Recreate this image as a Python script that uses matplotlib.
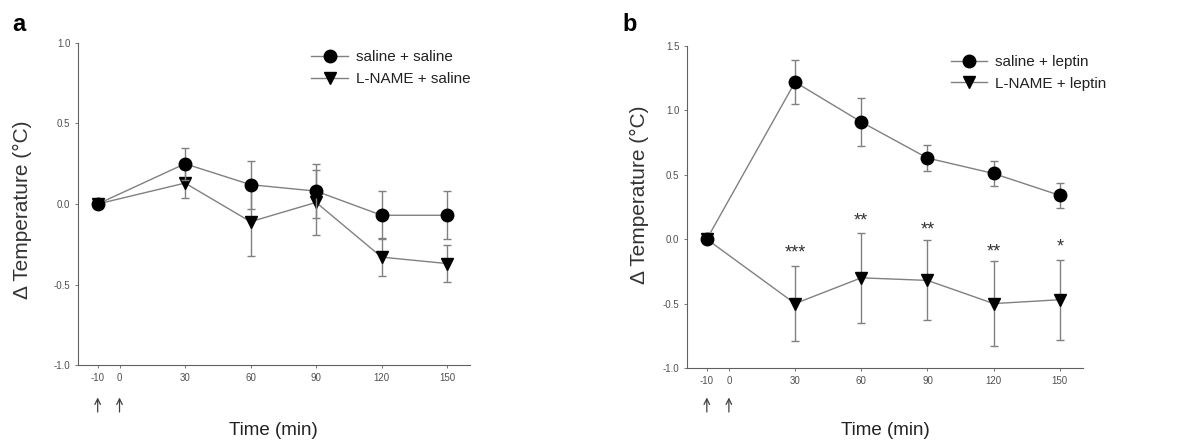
import matplotlib
matplotlib.use('Agg')
import matplotlib.pyplot as plt
from matplotlib.lines import Line2D

plt.rcParams['font.family'] = ['Liberation Sans', 'DejaVu Sans']
plt.rcParams['axes.unicode_minus'] = False

# datos
time = [-10, 30, 60, 90, 120, 150]
xticks = [-10, 0, 30, 60, 90, 120, 150]

a_saline = [0.0, 0.25, 0.12, 0.08, -0.07, -0.07]
a_saline_err = [0.0, 0.10, 0.15, 0.17, 0.15, 0.15]
a_lname = [0.0, 0.13, -0.11, 0.01, -0.33, -0.37]
a_lname_err = [0.0, 0.09, 0.21, 0.20, 0.12, 0.115]

b_saline = [0.0, 1.22, 0.91, 0.63, 0.51, 0.34]
b_saline_err = [0.0, 0.17, 0.19, 0.10, 0.10, 0.095]
b_lname = [0.0, -0.50, -0.30, -0.32, -0.50, -0.47]
b_lname_err = [0.0, 0.29, 0.35, 0.31, 0.33, 0.31]

stars = ['***', '**', '**', '**', '*']
star_y = [-0.11, 0.14, 0.07, -0.10, -0.06]

fig = plt.figure(figsize=(11.84, 4.46), dpi=100)
ax_a = fig.add_axes([0.0659, 0.1816, 0.3311, 0.722])
ax_b = fig.add_axes([0.5802, 0.1749, 0.3345, 0.722])

line_c = '#808080'


def draw(ax, y1, e1, y2, e2, labels, anchor):
    ax.errorbar(time, y2, yerr=e2, fmt='-v', color=line_c, mfc='black', mec='black',
                ms=9, lw=1, elinewidth=1, capsize=3, errorevery=(1, 1), zorder=3)
    ax.errorbar(time, y1, yerr=e1, fmt='-o', color=line_c, mfc='black', mec='black',
                ms=9, lw=1, elinewidth=1, capsize=3, errorevery=(1, 1), zorder=4)
    ax.spines['top'].set_visible(False)
    ax.spines['right'].set_visible(False)
    for s in ['left', 'bottom']:
        ax.spines[s].set_color('#606060')
        ax.spines[s].set_linewidth(0.8)
    ax.set_xlim(-19, 160.5)
    ax.set_xticks(xticks)
    ax.tick_params(axis='both', direction='out', length=2.5, width=0.6, colors='#606060',
                   labelsize=7, labelcolor='#505050', pad=3)
    handles = [Line2D([], [], color=line_c, lw=1, marker='o', ms=9, mfc='black', mec='black'),
               Line2D([], [], color=line_c, lw=1, marker='v', ms=9, mfc='black', mec='black')]
    leg = ax.legend(handles, labels, loc='upper right', bbox_to_anchor=anchor, frameon=False,
                    fontsize=11, handlelength=2.4, handletextpad=0.5, labelspacing=0.5,
                    numpoints=1)
    for t in leg.get_texts():
        t.set_color('#222222')
    for x in [-10, 0]:
        ax.annotate('', xy=(x, 0.115), xytext=(x, 0.07),
                    xycoords=('data', 'figure fraction'),
                    textcoords=('data', 'figure fraction'),
                    arrowprops=dict(arrowstyle='->', color='#404040', lw=0.9))


draw(ax_a, a_saline, a_saline_err, a_lname, a_lname_err,
     ['saline + saline', 'L-NAME + saline'], (1.036, 1.02))
ax_a.set_ylim(-1.0, 1.0)
ax_a.set_yticks([-1.0, -0.5, 0.0, 0.5, 1.0])
ax_a.set_yticklabels(['-1.0', '-0.5', '0.0', '0.5', '1.0'])

draw(ax_b, b_saline, b_saline_err, b_lname, b_lname_err,
     ['saline + leptin', 'L-NAME + leptin'], (1.093, 1.015))
ax_b.set_ylim(-1.0, 1.5)
ax_b.set_yticks([-1.0, -0.5, 0.0, 0.5, 1.0, 1.5])
ax_b.set_yticklabels(['-1.0', '-0.5', '0.0', '0.5', '1.0', '1.5'])

for x, s, y in zip(time[1:], stars, star_y):
    ax_b.text(x, y, s, ha='center', va='center', fontsize=13, color='#333333')

# etiquetas de ejes
fig.text(0.019, 0.529, '\u0394 Temperature (\u00b0C)', rotation=90, ha='center', va='center',
         fontsize=15, color='#333333')
fig.text(0.5405, 0.563, '\u0394 Temperature (\u00b0C)', rotation=90, ha='center', va='center',
         fontsize=15, color='#333333')
fig.text(0.2305, 0.034, 'Time (min)', ha='center', va='center', fontsize=13.5, color='#222222')
fig.text(0.7475, 0.034, 'Time (min)', ha='center', va='center', fontsize=13.5, color='#222222')

fig.text(0.010, 0.945, 'a', fontsize=17, fontweight='bold', ha='left', va='center')
fig.text(0.526, 0.945, 'b', fontsize=17, fontweight='bold', ha='left', va='center')

fig.savefig('out.png', dpi=100)
